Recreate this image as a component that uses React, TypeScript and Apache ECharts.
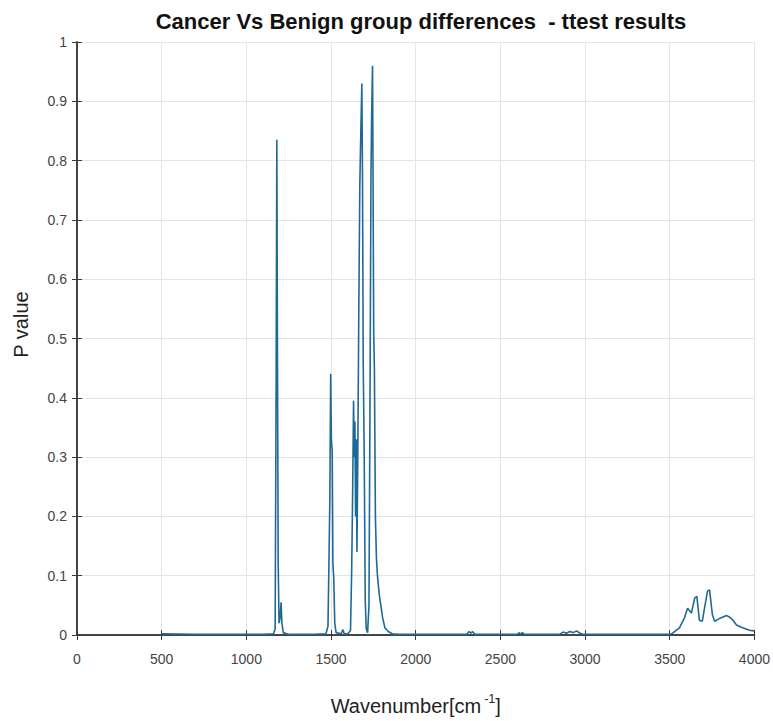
import React, { useEffect, useRef } from "react";
import * as echarts from "echarts";

const titleText = "Cancer Vs Benign group differences  - ttest results";
const xTicks = [0, 500, 1000, 1500, 2000, 2500, 3000, 3500, 4000];

const wavenumbers = [
  500, 700, 900, 1100, 1160, 1170, 1176, 1180, 1184, 1188, 1193, 1200, 1205, 1210, 1218, 1250,
  1400, 1470, 1482, 1488, 1493, 1498, 1502, 1507, 1511, 1516, 1522, 1530, 1560, 1570, 1578,
  1600, 1615, 1622, 1628, 1633, 1637, 1641, 1645, 1649, 1653, 1658, 1664, 1670, 1676, 1682,
  1686, 1690, 1696, 1702, 1708, 1716, 1724, 1730, 1736, 1740, 1745, 1748, 1752, 1756, 1762,
  1768, 1774, 1784, 1794, 1804, 1818, 1838, 1862, 1900, 2300, 2315, 2325, 2335, 2350, 2600,
  2612, 2620, 2630, 2640, 2850, 2870, 2890, 2910, 2930, 2950, 2970, 2990, 3500, 3517, 3557,
  3587, 3605, 3628, 3647, 3660, 3675, 3692, 3705, 3723, 3735, 3752, 3765, 3794, 3835, 3853,
  3870, 3894, 3923, 3970, 3999,
];

const pValues = [
  0.002, 0.001, 0.001, 0.001, 0.002, 0.01, 0.44, 0.835, 0.45, 0.12, 0.02, 0.03, 0.055, 0.02, 0.004, 0.001,
  0.001, 0.002, 0.015, 0.13, 0.23, 0.44, 0.33, 0.31, 0.12, 0.096, 0.02, 0.004, 0.002, 0.009, 0.002,
  0.002, 0.008, 0.11, 0.25, 0.395, 0.3, 0.36, 0.2, 0.33, 0.14, 0.3, 0.55, 0.76, 0.85, 0.93,
  0.76, 0.46, 0.3, 0.057, 0.01, 0.004, 0.05, 0.385, 0.78, 0.88, 0.96, 0.78, 0.51, 0.45, 0.2,
  0.13, 0.1, 0.07, 0.05, 0.03, 0.012, 0.006, 0.002, 0.001, 0.001, 0.006, 0.003, 0.006, 0.001, 0.001,
  0.004, 0.001, 0.004, 0.001, 0.001, 0.005, 0.003, 0.006, 0.004, 0.007, 0.003, 0.001, 0.001, 0.003, 0.012,
  0.029, 0.045, 0.037, 0.062, 0.065, 0.025, 0.023, 0.045, 0.074, 0.076, 0.034, 0.023, 0.028, 0.033, 0.03,
  0.026, 0.017, 0.013, 0.008, 0.007,
];

const FONT = "Liberation Sans, Arial, sans-serif";

export default function App() {
  const ref = useRef<HTMLDivElement>(null);
  useEffect(() => {
    if (!ref.current) return;
    const chart = echarts.init(ref.current, undefined, { renderer: "svg" });
    const data = wavenumbers.map((w, i) => [w, pValues[i]]);
    const axisLine = { show: true, lineStyle: { color: "#3a3a3a", width: 1.5 } };
    const tickStyle = { show: true, inside: true, length: 5, lineStyle: { color: "#3a3a3a", width: 1 } };
    const labelStyle = { color: "#444", fontSize: 14, fontFamily: FONT };
    chart.setOption({
      animation: false,
      backgroundColor: "#ffffff",
      title: {
        text: titleText,
        left: 416,
        top: 5,
        textAlign: "center",
        textStyle: { fontSize: 22, fontWeight: "bold", color: "#111", fontFamily: FONT },
      },
      grid: { left: 77, right: 18, top: 42, bottom: 84 },
      xAxis: [
        {
          type: "value",
          min: 0,
          max: 4000,
          interval: 500,
          axisLine,
          axisTick: tickStyle,
          axisLabel: {
            ...labelStyle,
            margin: 17,
            formatter: (v: number) => (xTicks.includes(v) ? String(v) : ""),
          },
          splitLine: { show: true, lineStyle: { color: "#e4e4e4", width: 1 } },
          name: "{a|Wavenumber[cm}{s| -1}{a|]}",
          nameLocation: "middle",
          nameGap: 58,
          nameTextStyle: {
            rich: {
              a: { fontSize: 20, color: "#222", fontFamily: FONT, lineHeight: 26 },
              s: { fontSize: 12, color: "#222", fontFamily: FONT, verticalAlign: "top", lineHeight: 26 },
            },
          },
        },
        {
          type: "value",
          position: "top",
          min: 0,
          max: 4000,
          interval: 500,
          axisLine,
          axisTick: tickStyle,
          axisLabel: { show: false },
          splitLine: { show: false },
        },
      ],
      yAxis: [
        {
          type: "value",
          min: 0,
          max: 1,
          interval: 0.1,
          axisLine,
          axisTick: tickStyle,
          axisLabel: { ...labelStyle, margin: 10 },
          splitLine: { show: true, lineStyle: { color: "#e4e4e4", width: 1 } },
          name: "P value",
          nameLocation: "middle",
          nameGap: 46,
          nameTextStyle: { fontSize: 20, color: "#222", fontFamily: FONT, padding: [0, 0, 0, 28] },
        },
        {
          type: "value",
          position: "right",
          min: 0,
          max: 1,
          interval: 0.1,
          axisLine,
          axisTick: tickStyle,
          axisLabel: { show: false },
          splitLine: { show: false },
        },
      ],
      series: [
        {
          type: "line",
          data,
          showSymbol: false,
          symbol: "none",
          lineStyle: { color: "#1e6a96", width: 1.6 },
          z: 3,
        },
      ],
    });
    return () => chart.dispose();
  }, []);
  return (
    <div
      ref={ref}
      style={{ position: "fixed", left: 0, top: 0, width: 773, height: 721 }}
    />
  );
}
